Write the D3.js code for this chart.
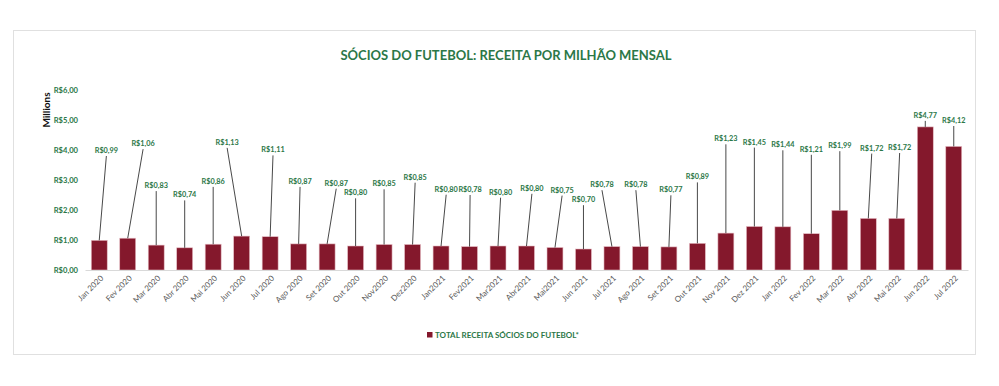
<!DOCTYPE html>
<html>
<head>
<meta charset="utf-8">
<script src="https://cdn.jsdelivr.net/npm/d3@7"></script>
<style>
  body { margin: 0; background: #fff; }
  text { font-family: Lato, "Open Sans", sans-serif; }
</style>
</head>
<body>
<div id="chart"></div>
<script>
/****** DATA ******/
var months = ["Jan 2020", "Fev 2020", "Mar 2020", "Abr 2020", "Mai 2020", "Jun 2020", "Jul 2020",
  "Ago 2020", "Set 2020", "Out 2020", "Nov2020", "Dez2020", "Jan2021", "Fev2021", "Mar2021",
  "Abr2021", "Mai2021", "Jun 2021", "Jul 2021", "Ago 2021", "Set 2021", "Out 2021", "Nov 2021",
  "Dez 2021", "Jan 2022", "Fev 2022", "Mar 2022", "Abr 2022", "Mai 2022", "Jun 2022", "Jul 2022"];

var receita = [0.99, 1.06, 0.83, 0.74, 0.86, 1.13, 1.11, 0.87, 0.87, 0.80, 0.85, 0.85, 0.80, 0.78,
  0.80, 0.80, 0.75, 0.70, 0.78, 0.78, 0.77, 0.89, 1.23, 1.45, 1.44, 1.21, 1.99, 1.72, 1.72, 4.77, 4.12];

// where each data label was dragged to (in millions, and in bar widths sideways)
var labelLevel = [4.00, 4.23, 2.83, 2.52, 2.97, 4.27, 4.02, 2.97, 2.91, 2.59, 2.89, 3.11, 2.71, 2.70,
  2.61, 2.74, 2.68, 2.36, 2.86, 2.86, 2.69, 3.12, 4.39, 4.28, 4.19, 4.04, 4.16, 4.08, 4.10, 5.17, 5.00];
var labelShift = [0.25, 0.54, 0, 0, 0, -0.51, 0.1, 0.05, 0.32, 0, 0, 0.09, 0.18, 0.02, 0.09, 0.19, 0.25,
  0, -0.35, -0.16, 0.07, 0, 0, 0, 0, 0, 0, 0.12, 0.1, 0, 0];

var yTicks = [0, 1, 2, 3, 4, 5, 6];

var title = "SÓCIOS DO FUTEBOL: RECEITA POR MILHÃO MENSAL";
var legendLabel = "TOTAL RECEITA SÓCIOS DO FUTEBOL*";

/****** SETUP ******/
var W = 999, H = 386;
var green = "#2b7747", barColor = "#84182c";

var ptBR = d3.formatLocale({decimal: ",", thousands: ".", grouping: [3], currency: ["R$", ""]});
var fmt = function(v) { return "R$" + ptBR.format(".2f")(v); };

var svg = d3.select("#chart")
  .append("svg")
  .attr("width", W)
  .attr("height", H);

// chart frame
svg.append("rect")
  .attr("x", 13.5).attr("y", 30.5)
  .attr("width", 962).attr("height", 324)
  .attr("fill", "#fff")
  .attr("stroke", "#e0e0e0")
  .attr("stroke-width", 1);

var x = d3.scaleBand()
  .domain(months)
  .range([85, 968])
  .paddingInner(0.44)
  .paddingOuter(0.22);

var y = d3.scaleLinear()
  .domain([0, 6])
  .range([270, 90]);

/****** TITLE ******/
svg.append("text")
  .attr("x", 506)
  .attr("y", 59.5)
  .attr("text-anchor", "middle")
  .style("font-size", "13px")
  .style("font-weight", "bold")
  .style("fill", green)
  .text(title);

/****** Y AXIS ******/
svg.append("g")
  .selectAll("text")
  .data(yTicks)
  .enter()
  .append("text")
    .attr("x", 78)
    .attr("y", function(d) { return y(d) + 3; })
    .attr("text-anchor", "end")
    .style("font-size", "7.6px")
    .style("font-weight", "bold")
    .style("fill", green)
    .text(function(d) { return fmt(d); });

svg.append("text")
  .attr("transform", "translate(50,110) rotate(-90)")
  .attr("text-anchor", "middle")
  .style("font-size", "10px")
  .style("font-weight", "bold")
  .style("fill", "#111")
  .text("Millions");

/****** BARS ******/
svg.append("g")
  .selectAll("rect")
  .data(receita)
  .enter()
  .append("rect")
    .attr("x", function(d, i) { return x(months[i]); })
    .attr("y", function(d) { return y(d); })
    .attr("width", x.bandwidth())
    .attr("height", function(d) { return y(0) - y(d); })
    .attr("fill", barColor)
    .attr("stroke", "#e6bcc4")
    .attr("stroke-width", 0.6);

// x axis line
var xAxis = svg.append("g")
  .attr("transform", "translate(0,270)")
  .call(d3.axisBottom(x).tickSize(0).tickPadding(0));
xAxis.select(".domain").attr("stroke", "#d9d9d9");
xAxis.selectAll(".tick text")
  .attr("transform", "translate(3,7) rotate(-45)")
  .attr("text-anchor", "end")
  .attr("dy", "0.3em")
  .style("font-family", "Lato, 'Open Sans', sans-serif")
  .style("font-size", "8px")
  .style("fill", "#595959");

/****** DATA LABELS + LEADER LINES ******/
var cx = function(i) { return x(months[i]) + x.bandwidth() / 2; };
var lx = function(i) { return cx(i) + labelShift[i] * x.step(); };

svg.append("g")
  .selectAll("line")
  .data(receita)
  .enter()
  .append("line")
    .attr("x1", function(d, i) { return lx(i); })
    .attr("y1", function(d, i) { return y(labelLevel[i]) + 6; })
    .attr("x2", function(d, i) { return cx(i); })
    .attr("y2", function(d) { return y(d); })
    .attr("stroke", "#333")
    .attr("stroke-width", 0.9);

svg.append("g")
  .selectAll("text")
  .data(receita)
  .enter()
  .append("text")
    .attr("x", function(d, i) { return lx(i); })
    .attr("y", function(d, i) { return y(labelLevel[i]) + 3; })
    .attr("text-anchor", "middle")
    .style("font-size", "7.3px")
    .style("font-weight", "bold")
    .style("fill", green)
    .text(function(d) { return fmt(d); });

/****** LEGEND ******/
svg.append("rect")
  .attr("x", 427).attr("y", 332)
  .attr("width", 5.5).attr("height", 5.5)
  .attr("fill", barColor);

svg.append("text")
  .attr("x", 435)
  .attr("y", 338)
  .style("font-size", "8px")
  .style("font-weight", "bold")
  .style("fill", green)
  .text(legendLabel);
</script>
</body>
</html>
